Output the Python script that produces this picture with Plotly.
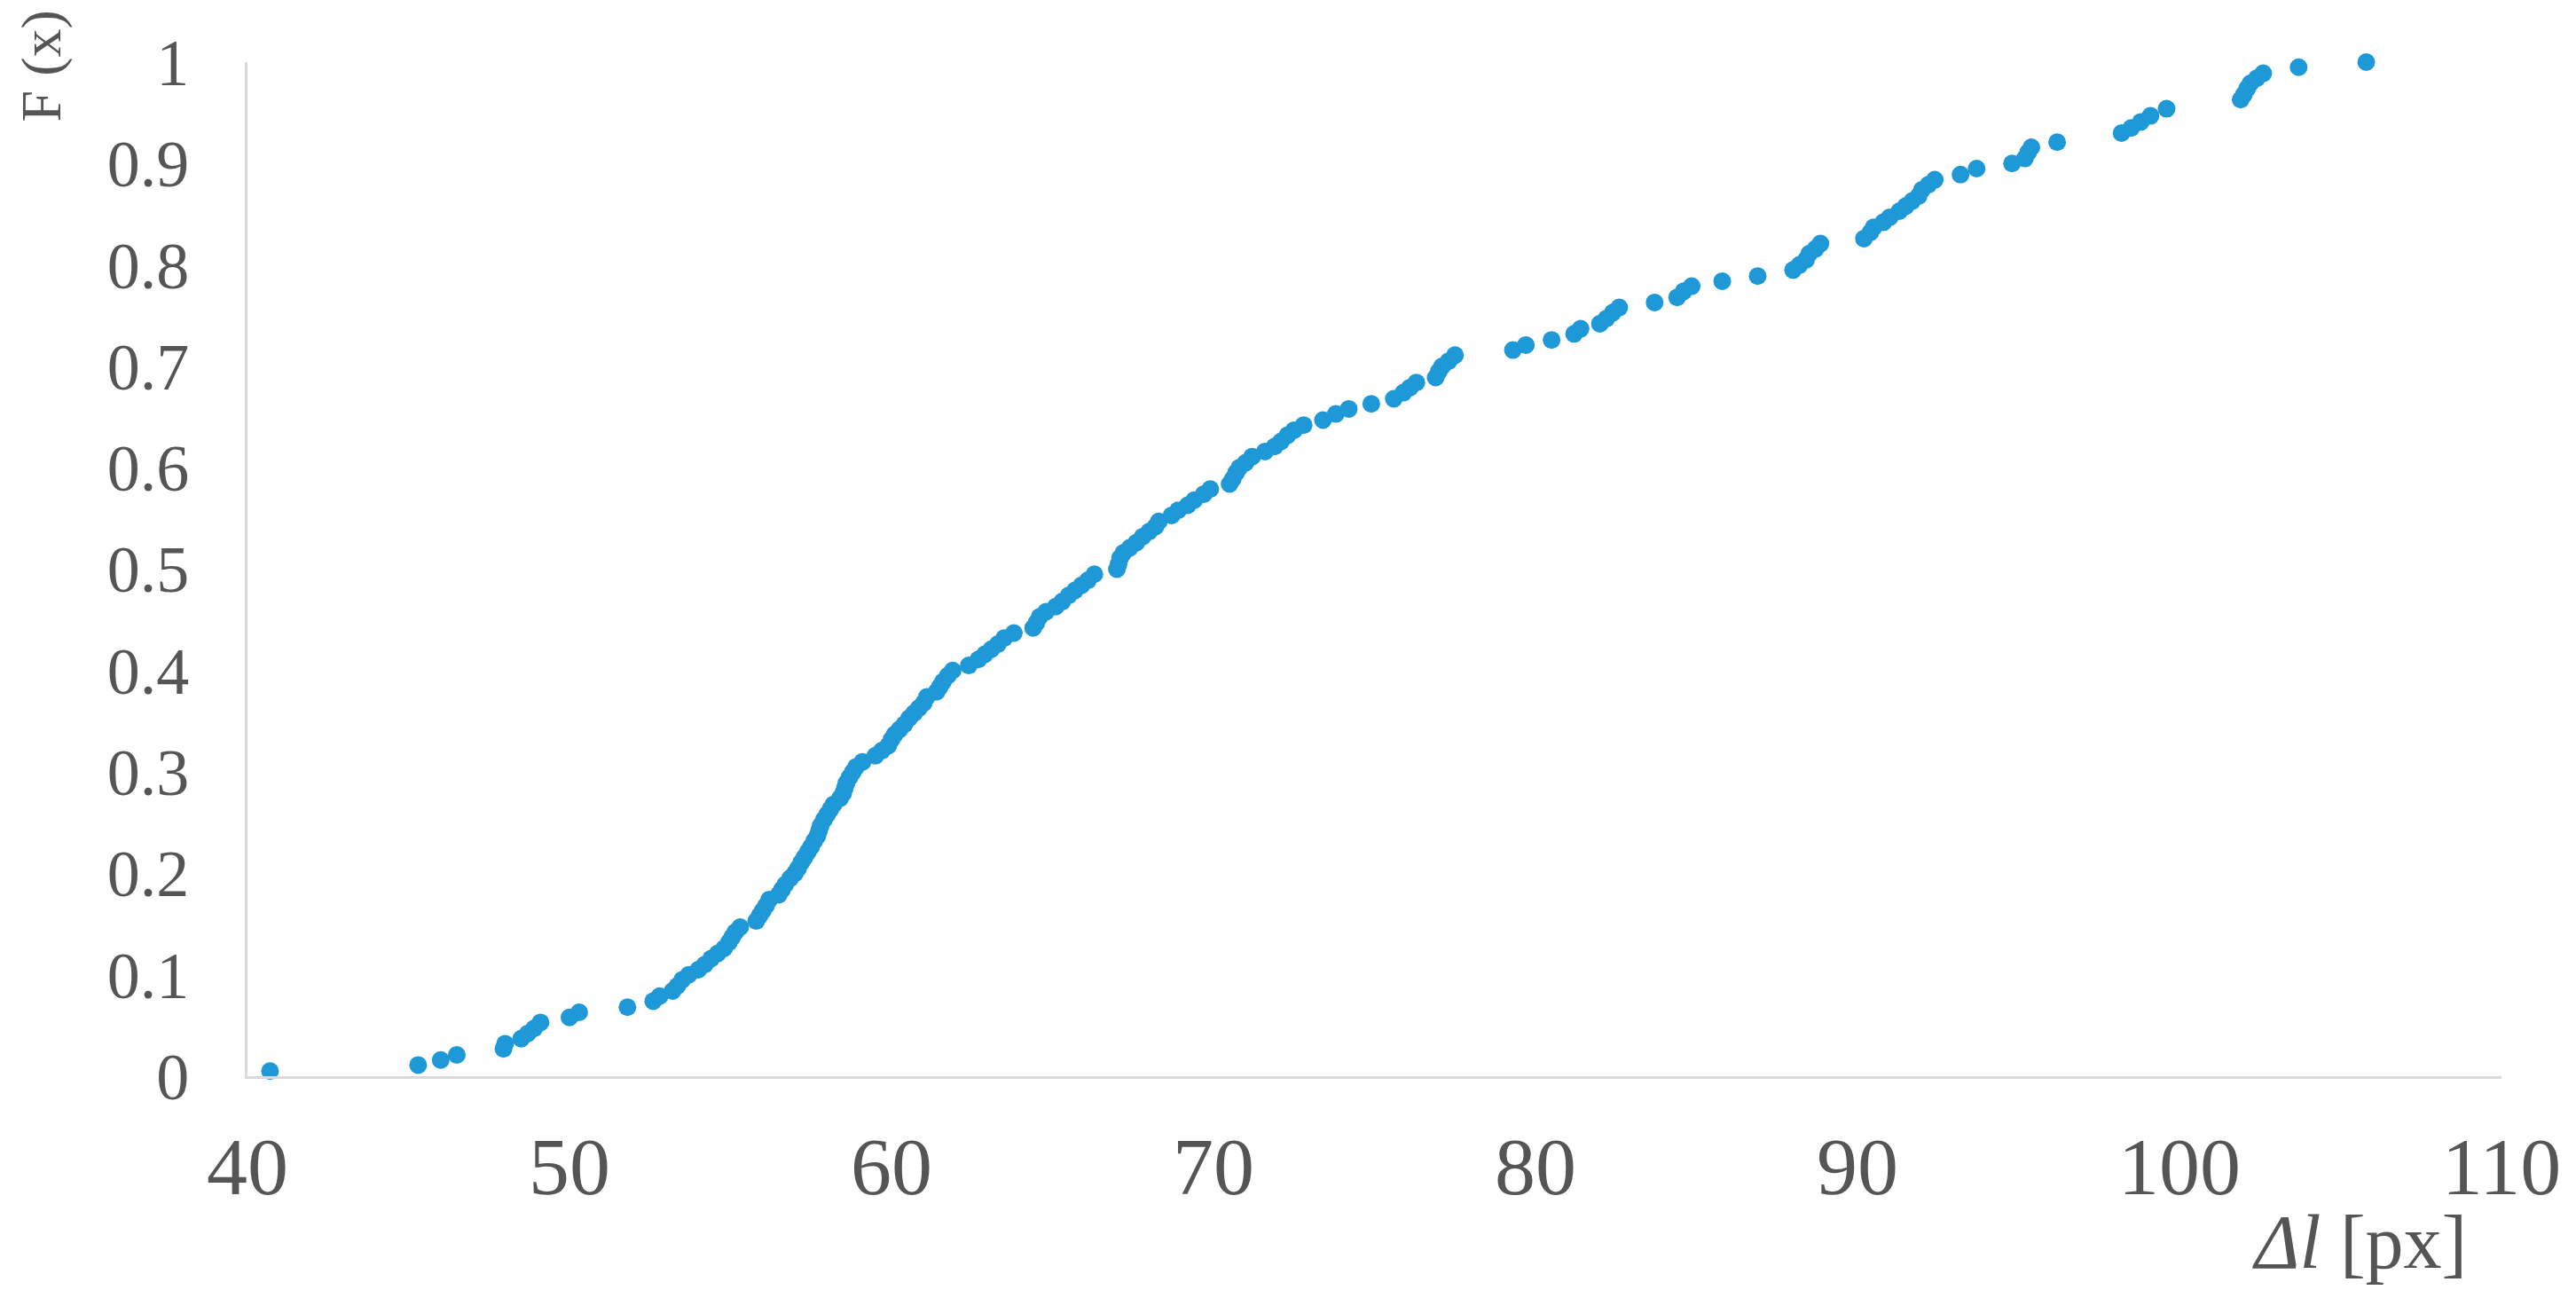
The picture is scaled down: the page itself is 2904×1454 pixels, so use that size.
import plotly.graph_objects as go

delta_l = [
    40.7,
    45.3, 46.0, 46.5,
    47.95, 48.0,
    48.5, 48.7, 48.9, 49.1,
    50.0, 50.3,
    51.8,
    52.6, 52.8,
    53.2, 53.35, 53.5, 53.7,
    54.0, 54.2, 54.4, 54.6,
    54.8, 54.95, 55.05, 55.15, 55.3,
    55.8, 55.9, 56.0, 56.1, 56.2,
    56.5, 56.6, 56.7, 56.85,
    57.0, 57.1, 57.2, 57.3, 57.4, 57.5, 57.6,
    57.7, 57.75, 57.8, 57.9, 58.0, 58.1, 58.2,
    58.4, 58.5, 58.55, 58.6, 58.7, 58.8, 58.9, 59.1,
    59.5, 59.7, 59.9, 60.0, 60.1, 60.25,
    60.4, 60.55, 60.7, 60.85, 61.0, 61.1,
    61.4, 61.5, 61.6, 61.75, 61.9,
    62.4, 62.7, 62.9, 63.1, 63.3, 63.5, 63.8,
    64.4, 64.5, 64.6, 64.8,
    65.1, 65.3, 65.5, 65.7, 65.9, 66.1, 66.3,
    67.0, 67.05, 67.1, 67.2, 67.4, 67.6, 67.8, 68.0, 68.2, 68.3,
    68.7, 68.9, 69.2, 69.4, 69.7, 69.9,
    70.5, 70.6, 70.7, 70.8, 71.0, 71.2,
    71.6, 71.9, 72.1, 72.3, 72.5, 72.8,
    73.4, 73.8, 74.2,
    74.9, 75.6, 75.9, 76.1, 76.3,
    76.9, 77.0, 77.1, 77.3, 77.5,
    79.3, 79.7,
    80.5,
    81.2, 81.4,
    82.0, 82.2, 82.4, 82.6,
    83.7,
    84.4, 84.6, 84.85,
    85.8,
    86.9,
    88.0, 88.2, 88.4, 88.5, 88.7, 88.85,
    90.2, 90.4, 90.5, 90.8, 91.0, 91.3, 91.5, 91.7, 91.9, 92.0, 92.2, 92.4,
    93.2, 93.7,
    94.8, 95.2, 95.3, 95.4,
    96.2,
    98.2, 98.5, 98.8, 99.1, 99.6,
    101.9, 102.0, 102.1, 102.2, 102.4, 102.6,
    103.7,
    105.8,
]

f_x = [
    0.005,
    0.011, 0.016, 0.021,
    0.027, 0.032,
    0.037, 0.042, 0.047, 0.053,
    0.058, 0.063,
    0.068,
    0.074, 0.079,
    0.084, 0.089, 0.095, 0.100,
    0.105, 0.110, 0.116, 0.121,
    0.126, 0.132, 0.137, 0.142, 0.147,
    0.153, 0.158, 0.163, 0.168, 0.174,
    0.179, 0.184, 0.189, 0.195,
    0.200, 0.205, 0.211, 0.216, 0.221, 0.226, 0.232,
    0.237, 0.242, 0.247, 0.253, 0.258, 0.263, 0.268,
    0.274, 0.279, 0.284, 0.289, 0.295, 0.300, 0.305, 0.310,
    0.316, 0.321, 0.326, 0.332, 0.337, 0.342,
    0.347, 0.353, 0.358, 0.363, 0.368, 0.374,
    0.379, 0.384, 0.389, 0.395, 0.400,
    0.405, 0.411, 0.416, 0.421, 0.426, 0.432, 0.437,
    0.442, 0.447, 0.453, 0.458,
    0.463, 0.468, 0.474, 0.479, 0.484, 0.489, 0.495,
    0.500, 0.505, 0.511, 0.516, 0.521, 0.526, 0.532, 0.537, 0.542, 0.547,
    0.553, 0.558, 0.563, 0.568, 0.574, 0.579,
    0.584, 0.589, 0.595, 0.600, 0.605, 0.611,
    0.616, 0.621, 0.626, 0.632, 0.637, 0.642,
    0.647, 0.653, 0.658,
    0.663, 0.668, 0.674, 0.679, 0.684,
    0.689, 0.695, 0.700, 0.705, 0.711,
    0.716, 0.721,
    0.726,
    0.732, 0.737,
    0.742, 0.747, 0.753, 0.758,
    0.763,
    0.768, 0.774, 0.779,
    0.784,
    0.789,
    0.795, 0.800, 0.805, 0.811, 0.816, 0.821,
    0.826, 0.832, 0.837, 0.842, 0.847, 0.853, 0.858, 0.863, 0.868, 0.874, 0.879, 0.884,
    0.889, 0.895,
    0.900, 0.905, 0.911, 0.916,
    0.921,
    0.930, 0.935, 0.941, 0.947, 0.954,
    0.963, 0.968, 0.974, 0.979, 0.984, 0.989,
    0.995,
    1.000,
]

x_ticks = [40, 50, 60, 70, 80, 90, 100, 110]
y_ticks = [0, 0.1, 0.2, 0.3, 0.4, 0.5, 0.6, 0.7, 0.8, 0.9, 1]
y_tick_text = ["0", "0.1", "0.2", "0.3", "0.4", "0.5", "0.6", "0.7", "0.8", "0.9", "1"]

FONT = "Liberation Serif"
TEXT = "#555555"
AXIS = "#d9d9d9"

fig = go.Figure(
    go.Scatter(
        x=delta_l,
        y=f_x,
        mode="markers",
        marker=dict(size=20, color="#1e98d7"),
        cliponaxis=False,
        showlegend=False,
    )
)

# the page body adds 8px, so margins are 8px short on the left/top
fig.update_layout(
    width=2904,
    height=1454,
    margin=dict(l=271, r=92, t=62, b=249),
    paper_bgcolor="white",
    plot_bgcolor="white",
    font=dict(family=FONT, color=TEXT),
)

fig.update_xaxes(
    range=[40, 110],
    tickvals=x_ticks,
    tickfont=dict(size=92, family=FONT, color=TEXT),
    ticklabelstandoff=20,
    showgrid=False,
    zeroline=False,
    showline=True,
    linecolor=AXIS,
    linewidth=3,
    ticks="",
)
fig.update_yaxes(
    range=[0, 1],
    tickvals=y_ticks,
    ticktext=y_tick_text,
    tickfont=dict(size=74, family=FONT, color=TEXT),
    ticklabelstandoff=48,
    showgrid=False,
    zeroline=False,
    showline=True,
    linecolor=AXIS,
    linewidth=3,
    ticks="",
)

# axis titles sit at the corners, as in the original
fig.add_annotation(
    text="F (x)",
    xref="paper", yref="paper",
    x=-0.0917, y=1.053,
    xanchor="center", yanchor="top",
    textangle=-90,
    showarrow=False,
    font=dict(size=64, family=FONT, color=TEXT),
)
fig.add_annotation(
    text="<i>Δl</i> [px]",
    xref="paper", yref="paper",
    x=0.937, y=-0.164,
    xanchor="center", yanchor="middle",
    showarrow=False,
    font=dict(size=86, family=FONT, color=TEXT),
)

fig.write_html("out.html")
